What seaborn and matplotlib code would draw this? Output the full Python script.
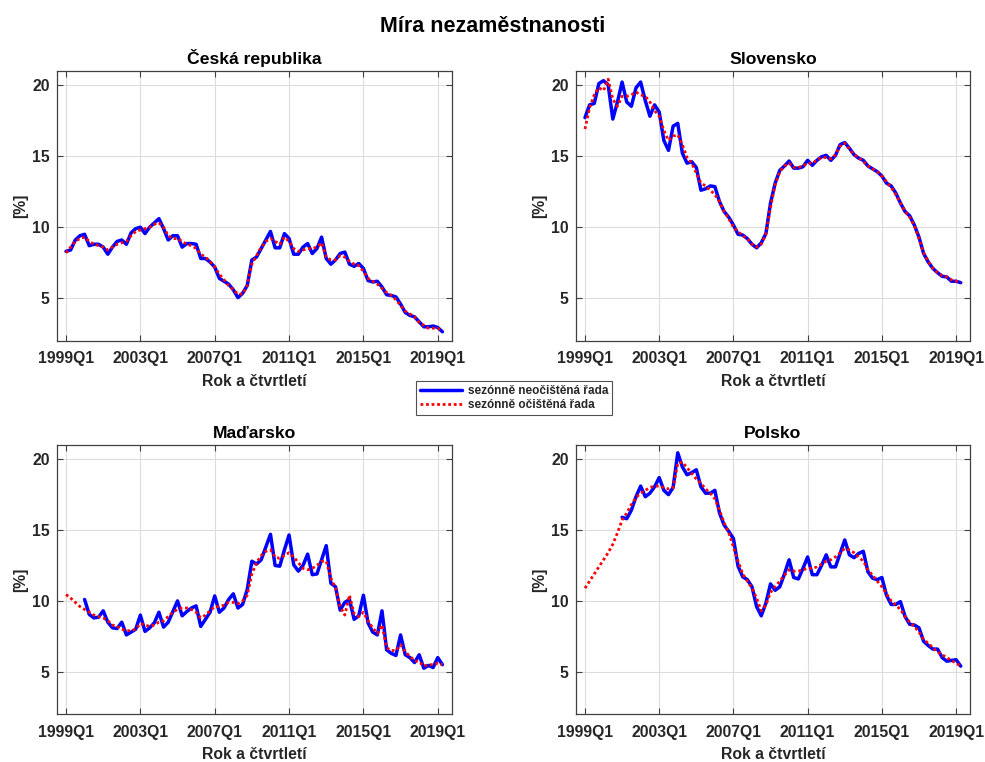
import numpy as np
import pandas as pd
import matplotlib
matplotlib.use("Agg")
import matplotlib.pyplot as plt
from matplotlib.lines import Line2D
import seaborn as sns

# Quarterly unemployment rate, 1999Q1 .. 2019Q2 (82 quarters)
quarters = [f"{y}Q{q}" for y in range(1999, 2020) for q in range(1, 5)][:82]
tick_labels = ["1999Q1", "2003Q1", "2007Q1", "2011Q1", "2015Q1", "2019Q1"]

cz_nsa = [8.3, 8.4, 9.1, 9.4, 9.5, 8.7, 8.8, 8.8, 8.6, 8.1, 8.6, 9.0, 9.1, 8.8, 9.6, 9.9,
          10.0, 9.55, 10.0, 10.3, 10.6, 9.9, 9.1, 9.4, 9.4, 8.6, 8.85, 8.85, 8.8, 7.8, 7.8, 7.55,
          7.2, 6.4, 6.2, 6.0, 5.6, 5.05, 5.35, 5.9, 7.7, 7.9, 8.5, 9.1, 9.7, 8.55, 8.55, 9.55,
          9.2, 8.1, 8.1, 8.6, 8.85, 8.15, 8.5, 9.3, 7.8, 7.4, 7.7, 8.15, 8.25, 7.4, 7.25, 7.45,
          7.1, 6.25, 6.15, 6.2, 5.8, 5.25, 5.2, 5.1, 4.6, 4.0, 3.8, 3.7, 3.35, 3.0, 3.0, 3.05,
          2.95, 2.65]
cz_sa = [8.2, 8.6, 9.0, 9.2, 9.3, 9.0, 8.8, 8.7, 8.6, 8.4, 8.6, 8.8, 8.9, 9.0, 9.4, 9.7,
         9.8, 9.9, 10.0, 10.2, 10.3, 10.0, 9.4, 9.2, 9.2, 9.0, 8.8, 8.7, 8.5, 8.1, 7.9, 7.6,
         7.2, 6.7, 6.3, 5.9, 5.6, 5.3, 5.3, 5.9, 7.4, 8.0, 8.6, 9.0, 9.2, 9.0, 8.8, 9.3,
         9.0, 8.5, 8.3, 8.4, 8.5, 8.5, 8.6, 8.9, 7.9, 7.7, 7.7, 8.0, 7.9, 7.6, 7.4, 7.3,
         6.9, 6.4, 6.2, 6.0, 5.7, 5.4, 5.2, 4.9, 4.5, 4.1, 3.9, 3.7, 3.3, 3.1, 2.9, 2.9,
         2.9, 2.7]

sk_nsa = [17.7, 18.6, 18.7, 20.1, 20.3, 20.0, 17.6, 18.8, 20.2, 18.8, 18.5, 19.8, 20.2, 18.9, 17.8, 18.6,
          18.1, 16.1, 15.4, 17.1, 17.3, 15.2, 14.5, 14.6, 14.2, 12.6, 12.7, 12.9, 12.85, 11.8, 11.1, 10.7,
          10.15, 9.5, 9.45, 9.2, 8.8, 8.55, 8.9, 9.55, 11.7, 13.1, 14.0, 14.3, 14.65, 14.15, 14.15, 14.25,
          14.7, 14.35, 14.7, 14.95, 15.05, 14.7, 15.05, 15.8, 15.95, 15.55, 15.1, 14.85, 14.7, 14.3, 14.1, 13.9,
          13.6, 13.1, 12.9, 12.4, 11.7, 11.1, 10.8, 10.15, 9.3, 8.15, 7.55, 7.1, 6.8, 6.55, 6.5, 6.2,
          6.2, 6.1]
sk_sa = [16.9, 18.4, 19.3, 19.8, 19.6, 20.4, 19.0, 18.5, 19.2, 19.2, 19.3, 19.5, 19.3, 19.2, 18.8, 18.2,
         17.8, 16.8, 16.1, 16.4, 16.5, 15.8, 14.9, 14.5, 13.8, 13.1, 12.9, 12.6, 12.3, 11.8, 11.1, 10.6,
         10.0, 9.7, 9.4, 9.2, 8.8, 8.6, 8.8, 9.5, 11.4, 13.0, 13.9, 14.3, 14.5, 14.2, 14.2, 14.3,
         14.5, 14.5, 14.7, 14.9, 14.9, 14.8, 15.1, 15.7, 15.9, 15.5, 15.1, 14.9, 14.6, 14.3, 14.1, 13.9,
         13.6, 13.2, 12.8, 12.3, 11.7, 11.1, 10.7, 10.1, 9.2, 8.2, 7.6, 7.1, 6.8, 6.6, 6.5, 6.3,
         6.2, 6.1]

nan = np.nan
hu_nsa = [nan, nan, nan, nan, 10.1, 9.05, 8.8, 8.85, 9.3, 8.5, 8.1, 8.05, 8.5, 7.6, 7.8, 8.0,
          9.0, 7.85, 8.1, 8.45, 9.2, 8.15, 8.5, 9.25, 10.0, 8.95, 9.25, 9.5, 9.65, 8.2, 8.7, 9.2,
          10.35, 9.2, 9.5, 10.1, 10.5, 9.5, 9.75, 10.8, 12.8, 12.6, 12.9, 13.8, 14.7, 12.5, 12.45, 13.6,
          14.65, 12.55, 12.1, 12.5, 13.3, 11.85, 11.9, 12.9, 13.9, 11.25, 11.0, 9.35, 9.9, 10.1, 8.7, 8.95,
          10.4, 8.45, 7.8, 7.6, 9.3, 6.55, 6.3, 6.15, 7.6, 6.2, 6.0, 5.65, 6.2, 5.25, 5.45, 5.3,
          6.0, 5.5]
hu_sa = [10.45, 10.2, 9.9, 9.6, 9.4, 9.2, 9.0, 8.9, 8.8, 8.6, 8.3, 8.2, 8.0, 7.9, 7.9, 8.0,
         8.4, 8.3, 8.2, 8.3, 8.5, 8.6, 8.9, 9.2, 9.4, 9.5, 9.5, 9.4, 9.2, 8.8, 9.0, 9.3,
         9.6, 9.6, 9.7, 9.9, 9.9, 9.8, 10.0, 10.4, 11.9, 12.7, 13.2, 13.5, 13.6, 13.1, 13.0, 13.2,
         13.4, 13.1, 12.7, 12.3, 12.2, 12.3, 12.5, 12.8, 12.8, 11.6, 10.9, 9.6, 9.0, 10.4, 9.1, 8.9,
         9.2, 8.6, 8.1, 7.7, 8.3, 6.7, 6.5, 6.5, 6.9, 6.4, 6.1, 5.8, 5.7, 5.4, 5.5, 5.5,
         5.6, 5.5]

pl_nsa = [nan, nan, nan, nan, nan, nan, nan, nan, 15.9, 15.8, 16.4, 17.35, 18.1, 17.35, 17.6, 18.05,
          18.7, 17.8, 17.5, 18.0, 20.45, 19.45, 18.9, 19.05, 19.25, 18.05, 17.6, 17.6, 17.8, 16.2, 15.35, 14.9,
          14.4, 12.45, 11.7, 11.5, 11.0, 9.6, 8.95, 9.85, 11.2, 10.75, 11.0, 11.9, 12.9, 11.65, 11.55, 12.3,
          13.1, 11.85, 11.85, 12.5, 13.25, 12.4, 12.4, 13.35, 14.3, 13.25, 13.05, 13.35, 13.5, 12.05, 11.6, 11.5,
          11.65, 10.4, 9.75, 9.75, 9.95, 8.9, 8.35, 8.3, 8.1, 7.15, 6.85, 6.6, 6.6, 6.0, 5.75, 5.8,
          5.85, 5.4]
pl_sa = [10.9, 11.4, 11.9, 12.4, 12.9, 13.4, 14.0, 14.8, 15.7, 16.2, 16.8, 17.3, 17.6, 17.8, 18.0, 18.1,
         18.1, 18.0, 17.9, 18.0, 19.7, 19.8, 19.4, 19.0, 18.6, 18.3, 17.9, 17.6, 17.2, 16.4, 15.5, 14.8,
         13.8, 12.8, 11.9, 11.4, 10.9, 10.2, 9.3, 9.7, 10.6, 11.0, 11.4, 11.8, 12.2, 12.1, 12.1, 12.2,
         12.3, 12.3, 12.4, 12.6, 12.8, 12.9, 13.1, 13.4, 13.7, 13.6, 13.4, 13.1, 12.8, 12.2, 11.8, 11.4,
         11.0, 10.5, 10.0, 9.7, 9.4, 8.9, 8.5, 8.2, 7.8, 7.3, 7.0, 6.7, 6.4, 6.2, 6.0, 5.8,
         5.6, 5.4]

countries = ["Česká republika", "Slovensko", "Maďarsko", "Polsko"]
nsa_series = [cz_nsa, sk_nsa, hu_nsa, pl_nsa]
sa_series = [cz_sa, sk_sa, hu_sa, pl_sa]

label_nsa = "sezónně neočištěná řada"
label_sa = "sezónně očištěná řada"

sns.set_style("white")
plt.rcParams["font.family"] = ["Liberation Sans", "DejaVu Sans"]
plt.rcParams["font.weight"] = "bold"

fig = plt.figure(figsize=(9.85, 7.62), dpi=100)
W, H = 985, 762
boxes = [(56.7, 70.7, 451.7, 341.0), (575.7, 70.7, 970.0, 341.0),
         (56.7, 445.0, 451.7, 714.3), (575.7, 445.0, 970.0, 714.3)]

idx = np.arange(len(quarters))
tick_pos = [quarters.index(t) for t in tick_labels]
edge = "#404040"
txt = "#262626"
dotted = (0, (1, 1))

for (x0, y0, x1, y1), name, nsa, sa in zip(boxes, countries, nsa_series, sa_series):
    ax = fig.add_axes([x0 / W, 1 - y1 / H, (x1 - x0) / W, (y1 - y0) / H])
    df = pd.DataFrame({"i": idx, "nsa": nsa, "sa": sa})
    sns.lineplot(data=df.dropna(subset=["nsa"]), x="i", y="nsa", ax=ax, color="#0000ff",
                 linewidth=2.5, estimator=None, sort=False)
    sns.lineplot(data=df, x="i", y="sa", ax=ax, color="#ff0000",
                 linewidth=2.0, linestyle=dotted, estimator=None, sort=False)
    ax.set_xlim(-2, 83)
    ax.set_ylim(2, 21)
    ax.set_xticks(tick_pos)
    ax.set_xticklabels(tick_labels)
    ax.set_yticks([5, 10, 15, 20])
    ax.grid(True, color="#dcdcdc", linewidth=0.8)
    ax.set_axisbelow(True)
    ax.tick_params(direction="in", length=4, width=0.8, colors=edge, labelcolor=txt,
                   labelsize=11.3, top=True, right=True, bottom=True, left=True)
    ax.tick_params(axis="x", pad=7.5)
    ax.tick_params(axis="y", pad=5)
    for lab in ax.get_xticklabels() + ax.get_yticklabels():
        lab.set_fontweight("bold")
    for sp in ax.spines.values():
        sp.set_visible(True)
        sp.set_color(edge)
        sp.set_linewidth(0.9)
    ax.set_title(name, fontsize=12.6, fontweight="bold", color="#000000", pad=5)
    ax.set_xlabel("Rok a čtvrtletí", fontsize=11.3, fontweight="bold", color=txt, labelpad=5.5)
    ax.set_ylabel("[%]", fontsize=11.3, fontweight="bold", color=txt, labelpad=2.5)

fig.text(0.5, 1 - 32.3 / H, "Míra nezaměstnanosti", ha="center", va="baseline",
         fontsize=15.5, fontweight="bold", color="#000000")

handles = [Line2D([], [], color="#0000ff", linewidth=2.5),
           Line2D([], [], color="#ff0000", linewidth=2.0, linestyle=dotted)]
leg = fig.legend(handles, [label_nsa, label_sa], loc="center", bbox_to_anchor=(514 / W, 1 - 398 / H),
                 prop={"weight": "bold", "size": 8.5}, frameon=True, fancybox=False,
                 edgecolor=txt, handlelength=3.6, handletextpad=0.45, borderpad=0.35,
                 labelspacing=0.2, borderaxespad=0)
leg.get_frame().set_linewidth(0.8)

fig.savefig("out.png", dpi=100)
